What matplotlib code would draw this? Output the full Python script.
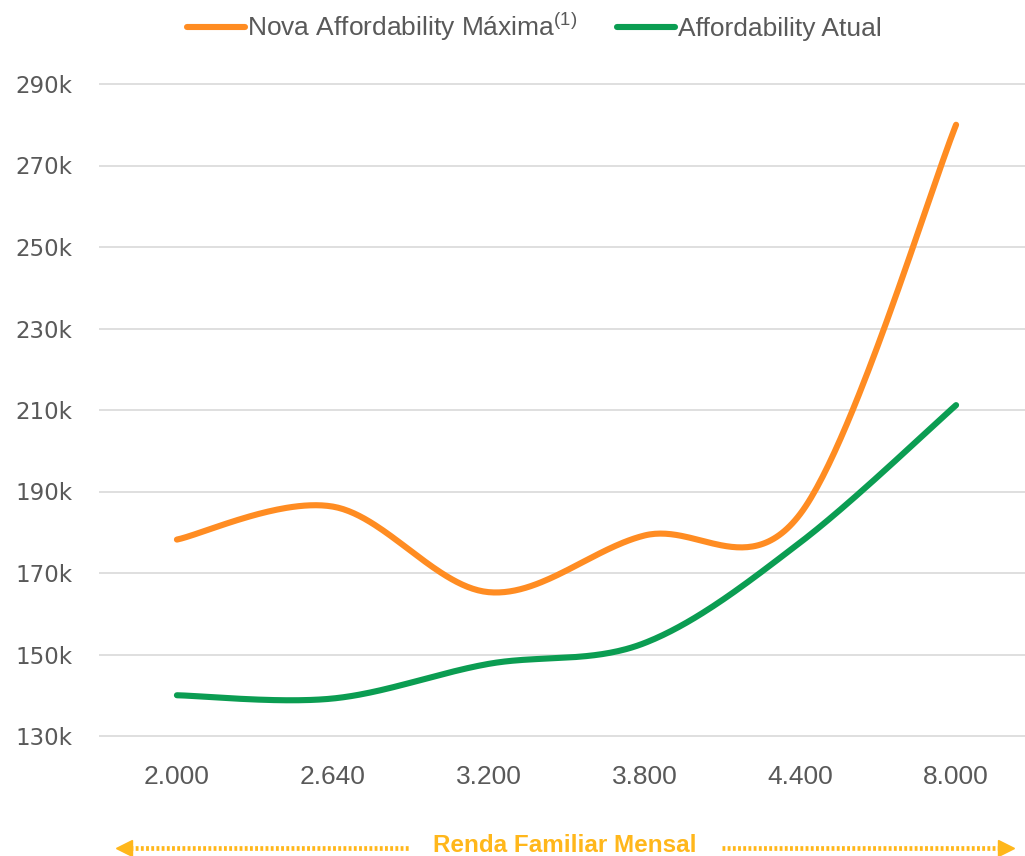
import numpy as np
import matplotlib
matplotlib.use("Agg")
import matplotlib.pyplot as plt
from matplotlib.lines import Line2D

# dados
rendas = ['2.000', '2.640', '3.200', '3.800', '4.400', '8.000']
nova_maxima = [178.2, 186.3, 165.3, 179.2, 184.5, 280.0]   # mil R$
atual = [140.0, 139.2, 147.7, 152.8, 177.5, 211.2]          # mil R$
y_ticks = [130, 150, 170, 190, 210, 230, 250, 270, 290]

LARANJA = '#FF8C22'
VERDE = '#0B9D52'
CINZA = '#595959'
AMARELO = '#FFB71B'
NARROW = ['Liberation Sans Narrow', 'Liberation Sans', 'DejaVu Sans']

plt.rcParams['mathtext.fontset'] = 'custom'
plt.rcParams['mathtext.rm'] = 'Liberation Sans'


def suaviza(y, n=60):
    # curva suave tipo Excel (Bezier com pontos de controle Catmull-Rom)
    y = np.asarray(y, float)
    x = np.arange(len(y), dtype=float)
    xs, ys = [], []
    for i in range(len(y) - 1):
        p0 = np.array([x[i], y[i]])
        p3 = np.array([x[i + 1], y[i + 1]])
        prev = np.array([x[i - 1], y[i - 1]]) if i > 0 else p0
        nxt = np.array([x[i + 2], y[i + 2]]) if i + 2 < len(y) else p3
        p1 = p0 + (p3 - prev) / 6
        p2 = p3 - (nxt - p0) / 6
        t = np.linspace(0, 1, n)[:, None]
        b = ((1 - t) ** 3) * p0 + 3 * ((1 - t) ** 2) * t * p1 + 3 * (1 - t) * t ** 2 * p2 + t ** 3 * p3
        xs.append(b[:, 0])
        ys.append(b[:, 1])
    return np.concatenate(xs), np.concatenate(ys)


W, H = 1025, 856
fig = plt.figure(figsize=(W / 100, H / 100), dpi=100)

# eixo: 128k..292k para as linhas de grade das bordas não serem cortadas
px_k = 652 / 160
top_px = 84 - 2 * px_k
bot_px = 736 + 2 * px_k
ax = fig.add_axes([99 / W, 1 - bot_px / H, (1034 - 99) / W, (bot_px - top_px) / H])

xs, ys = suaviza(nova_maxima)
ax.plot(xs, ys, color=LARANJA, lw=4.4, solid_capstyle='round', label='Nova Affordability Máxima$^{\\mathregular{(1)}}$', zorder=3)
xs, ys = suaviza(atual)
ax.plot(xs, ys, color=VERDE, lw=4.4, solid_capstyle='round', label='Affordability Atual', zorder=3)

ax.set_xlim(-0.5, len(rendas) - 0.5)
ax.set_ylim(128, 292)
ax.set_yticks(y_ticks)
ax.set_yticklabels([f'{v}k' for v in y_ticks], color=CINZA, fontsize=16.5, family='DejaVu Sans')
ax.set_xticks(range(len(rendas)))
ax.set_xticklabels(rendas, color=CINZA, fontsize=19, family=NARROW)
ax.tick_params(axis='y', length=0, pad=19)
ax.tick_params(axis='x', length=0, pad=15)
ax.grid(axis='y', color='#D9D9D9', lw=1.2)
ax.set_axisbelow(True)
for s in ax.spines.values():
    s.set_visible(False)

fig.legend(loc='center', bbox_to_anchor=(534 / W, 1 - 27 / H), ncol=2, frameon=False,
           prop={'family': NARROW, 'size': 19}, labelcolor=CINZA,
           handlelength=2.2, handletextpad=0.1, columnspacing=1.5)

# rótulo do eixo horizontal com setas pontilhadas
fig.text(565 / W, 1 - 845 / H, 'Renda Familiar Mensal', color=AMARELO, fontsize=17.5,
         fontweight='bold', family=NARROW, ha='center', va='center')
yb = 1 - 848 / H
fig.add_artist(Line2D([130 / W, 410 / W], [yb, yb], color=AMARELO, lw=3.4, ls=(0, (0.6, 0.5))))
fig.add_artist(Line2D([722 / W, 1000 / W], [yb, yb], color=AMARELO, lw=3.4, ls=(0, (0.6, 0.5))))
fig.add_artist(Line2D([124 / W], [yb], marker='<', color=AMARELO, ms=11, lw=0))
fig.add_artist(Line2D([1006 / W], [yb], marker='>', color=AMARELO, ms=11, lw=0))

fig.savefig('out.png', dpi=100)
